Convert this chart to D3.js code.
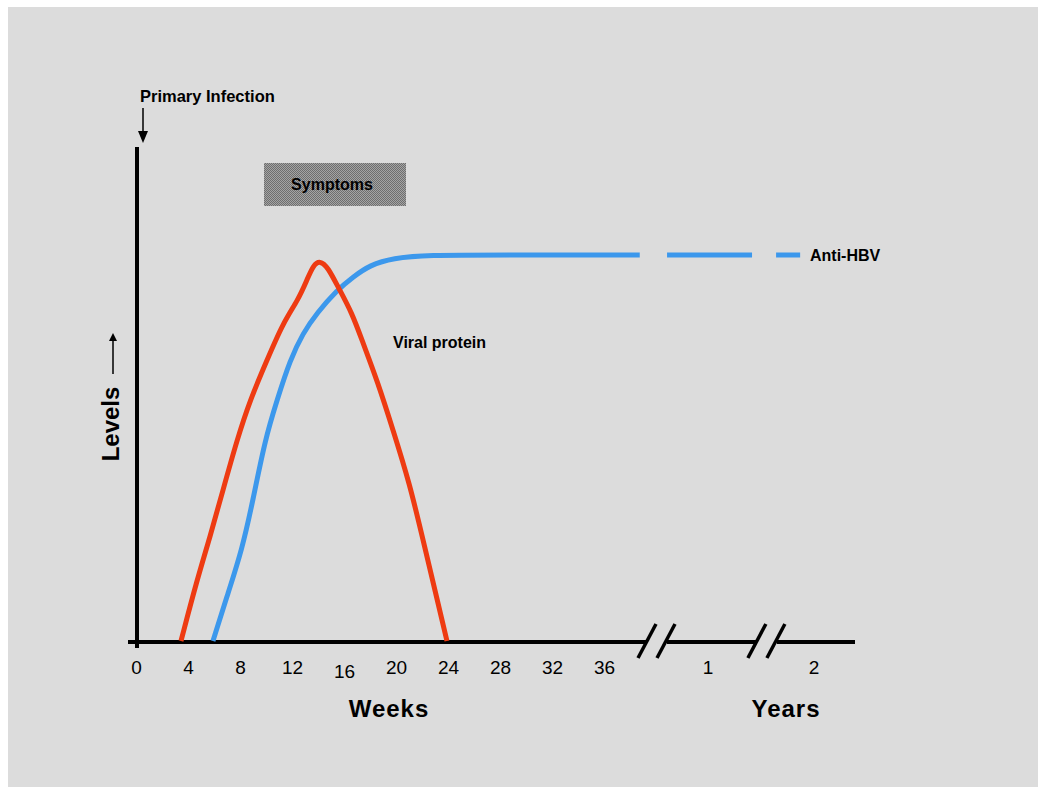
<!DOCTYPE html>
<html>
<head>
<meta charset="utf-8">
<script src="https://cdn.jsdelivr.net/npm/d3@7"></script>
<style>
  html, body { margin: 0; padding: 0; background: #ffffff; }
  svg { display: block; }
  text { font-family: "Liberation Sans", Arial, sans-serif; fill: #000; }
</style>
</head>
<body>
<div id="chart"></div>
<script>
// ticks
const weekTicks = [0, 4, 8, 12, 16, 20, 24, 28, 32, 36];
const yearTicks = [1, 2];

// viral protein curve (weeks, relative level)
const viralWeeks  = [3.46, 4.69, 5.69, 6.69, 7.77, 8.77, 10.08, 11.31, 12.46, 13.15, 13.62, 14.15, 14.77, 15.54, 16.62, 17.46, 18.54, 19.77, 21.08, 22.08, 23.92];
const viralLevels = [0, 15.8, 26.9, 39.1, 52.1, 62.4, 72.8, 82.4, 88.3, 93.5, 97.3, 98.6, 96.8, 91.7, 85.0, 77.2, 67.6, 54.7, 40.4, 26.2, 0];

// anti-HBV curve (weeks, relative level)
const antiWeeks  = [5.92, 7.08, 8.15, 9.0, 9.92, 10.85, 11.85, 12.85, 13.92, 15.46, 16.69, 18.0, 19.77, 22.38, 28, 41.5];
const antiLevels = [0, 12.4, 23.6, 36.5, 52.1, 62.4, 72.8, 79.8, 85.0, 90.9, 94.3, 97.4, 99.2, 100, 100, 100];

// dashed continuation of anti-HBV (start week, end week)
const antiDashes = [[45.7, 73.6], [85.4, 97.2]];

// axis breaks (week position)
const axisBreaks = [44, 80.4];

const largeur = 1038, hauteur = 787;

const svg = d3.select('#chart').append('svg')
    .attr('width', largeur)
    .attr('height', hauteur);

// motif tramé pour la boite "Symptoms"
const defs = svg.append('defs');
const motif = defs.append('pattern')
    .attr('id', 'trame')
    .attr('width', 2).attr('height', 2)
    .attr('patternUnits', 'userSpaceOnUse');
motif.append('rect').attr('width', 2).attr('height', 2).attr('fill', '#a4a4a4');
motif.append('rect').attr('width', 1).attr('height', 1).attr('fill', '#6e6e6e');
motif.append('rect').attr('x', 1).attr('y', 1).attr('width', 1).attr('height', 1).attr('fill', '#6e6e6e');

svg.append('rect')
    .attr('x', 8).attr('y', 7)
    .attr('width', largeur - 8).attr('height', hauteur - 7)
    .attr('fill', '#dcdcdc');

// échelle coupée : semaines puis années
const x = d3.scaleLinear()
    .domain([0, 36, 52, 104])
    .range([136, 604, 708, 814]);

const y = d3.scaleLinear()
    .domain([0, 100])
    .range([641, 255]);

const ligne = d3.line()
    .x(d => x(d[0]))
    .y(d => y(d[1]))
    .curve(d3.curveBasis);

const couleurRouge = '#ee3b12';
const couleurBleue = '#3c98ec';

// axes
const axeY = 642;
const xDebut = 128, xFin = 855;
const segments = [];
let gauche = xDebut;
axisBreaks.forEach(b => {
    segments.push([gauche, x(b) - 9]);
    gauche = x(b) + 11;
});
segments.push([gauche, xFin]);

svg.selectAll('.axe-x')
    .data(segments)
    .enter().append('line')
    .attr('class', 'axe-x')
    .attr('x1', d => d[0]).attr('x2', d => d[1])
    .attr('y1', axeY).attr('y2', axeY)
    .attr('stroke', '#000').attr('stroke-width', 4);

axisBreaks.forEach(b => {
    const cx = x(b);
    [-9, 10].forEach(dx => {
        svg.append('line')
            .attr('x1', cx + dx - 9).attr('y1', axeY + 16)
            .attr('x2', cx + dx + 9).attr('y2', axeY - 18)
            .attr('stroke', '#000').attr('stroke-width', 3.5);
    });
});

svg.append('line')
    .attr('x1', 137).attr('x2', 137)
    .attr('y1', 147).attr('y2', 648)
    .attr('stroke', '#000').attr('stroke-width', 4);

// libellés des graduations
const axeSemaines = d3.axisBottom(x)
    .tickValues(weekTicks)
    .tickSize(0)
    .tickPadding(0);

const gSemaines = svg.append('g')
    .attr('transform', `translate(0,${axeY})`)
    .call(axeSemaines);
gSemaines.select('.domain').remove();
gSemaines.selectAll('text')
    .attr('y', d => d === 16 ? 36 : 32)
    .attr('dy', 0)
    .style('font-family', '"Liberation Sans", Arial, sans-serif')
    .style('font-size', '19px')
    .attr('fill', '#000');

svg.selectAll('.annee')
    .data(yearTicks)
    .enter().append('text')
    .attr('class', 'annee')
    .attr('x', d => x(d * 52))
    .attr('y', axeY + 32)
    .attr('text-anchor', 'middle')
    .style('font-size', '19px')
    .text(d => d);

svg.append('text')
    .attr('x', 389).attr('y', 717)
    .attr('text-anchor', 'middle')
    .style('font-size', '24px').style('font-weight', 'bold')
    .style('letter-spacing', '1px')
    .text('Weeks');

svg.append('text')
    .attr('x', 786).attr('y', 717)
    .attr('text-anchor', 'middle')
    .style('font-size', '24px').style('font-weight', 'bold')
    .style('letter-spacing', '1px')
    .text('Years');

// titre axe Y
svg.append('text')
    .attr('transform', 'translate(119,424) rotate(-90)')
    .attr('text-anchor', 'middle')
    .style('font-size', '24px').style('font-weight', 'bold')
    .text('Levels');

const fleche = defs.append('marker')
    .attr('id', 'pointe')
    .attr('viewBox', '0 0 10 10')
    .attr('refX', 5).attr('refY', 5)
    .attr('markerWidth', 8).attr('markerHeight', 8)
    .attr('markerUnits', 'userSpaceOnUse')
    .attr('orient', 'auto');
fleche.append('path').attr('d', 'M0,0 L10,5 L0,10 Z').attr('fill', '#000');

svg.append('line')
    .attr('x1', 113).attr('x2', 113)
    .attr('y1', 374).attr('y2', 337)
    .attr('stroke', '#000').attr('stroke-width', 1.5)
    .attr('marker-end', 'url(#pointe)');

// Primary Infection
svg.append('text')
    .attr('x', 140).attr('y', 102)
    .style('font-size', '16.5px').style('font-weight', 'bold')
    .text('Primary Infection');

svg.append('line')
    .attr('x1', 143).attr('x2', 143)
    .attr('y1', 108).attr('y2', 133)
    .attr('stroke', '#000').attr('stroke-width', 1.5);
svg.append('path')
    .attr('d', 'M138,131 L148,131 L143,143 Z')
    .attr('fill', '#000');

// Symptoms
svg.append('rect')
    .attr('x', 264).attr('y', 163)
    .attr('width', 142).attr('height', 43)
    .attr('fill', 'url(#trame)');
svg.append('text')
    .attr('x', 332).attr('y', 190)
    .attr('text-anchor', 'middle')
    .style('font-size', '16px').style('font-weight', 'bold')
    .text('Symptoms');

// courbes
const donneesVirales = viralWeeks.map((w, i) => [w, viralLevels[i]]);
const donneesAnti = antiWeeks.map((w, i) => [w, antiLevels[i]]);

svg.append('path')
    .datum(donneesAnti)
    .attr('d', ligne)
    .attr('fill', 'none')
    .attr('stroke', couleurBleue)
    .attr('stroke-width', 5);

svg.selectAll('.tiret')
    .data(antiDashes)
    .enter().append('line')
    .attr('class', 'tiret')
    .attr('x1', d => x(d[0])).attr('x2', d => x(d[1]))
    .attr('y1', y(100)).attr('y2', y(100))
    .attr('stroke', couleurBleue)
    .attr('stroke-width', 5);

svg.append('path')
    .datum(donneesVirales)
    .attr('d', ligne)
    .attr('fill', 'none')
    .attr('stroke', couleurRouge)
    .attr('stroke-width', 5)
    .attr('stroke-linejoin', 'round');

// étiquettes des courbes
svg.append('text')
    .attr('x', 393).attr('y', 348)
    .style('font-size', '16px').style('font-weight', 'bold')
    .text('Viral protein');

svg.append('text')
    .attr('x', 810).attr('y', 261)
    .style('font-size', '16px').style('font-weight', 'bold')
    .text('Anti-HBV');
</script>
</body>
</html>
